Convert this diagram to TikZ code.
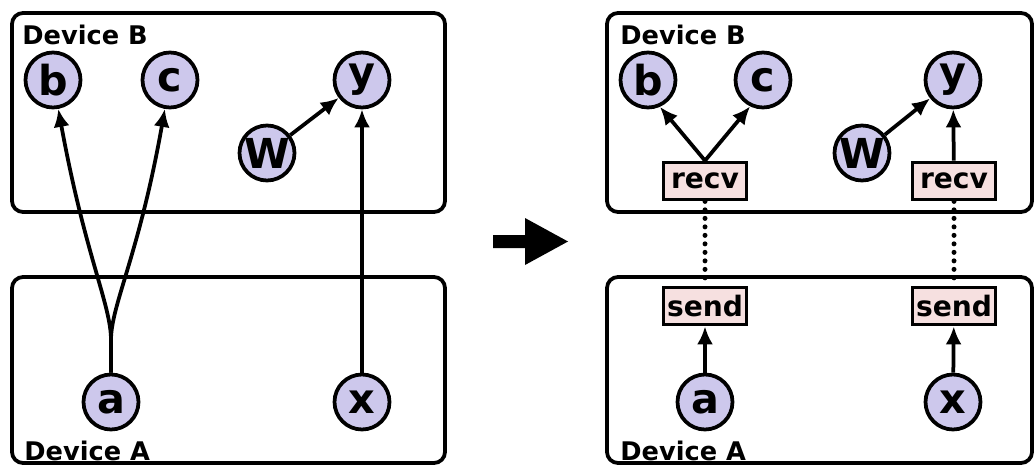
\documentclass[tikz,border=0pt]{standalone}
\usepackage{fontspec}
\setmainfont{DejaVu Sans}
\usetikzlibrary{arrows.meta}
\definecolor{nodefill}{RGB}{205,200,236}
\definecolor{opfill}{RGB}{246,224,224}
\begin{document}
\begin{tikzpicture}[x=0.02cm,y=-0.02cm,
  devbox/.style={draw=black, line width=0.075cm, rounded corners=0.22cm},
  devlabel/.style={anchor=base west, inner sep=0pt, font=\fontsize{14.6}{15}\selectfont\bfseries},
  opnode/.style={circle, draw=black, fill=nodefill, line width=0.075cm, minimum size=1.1cm, inner sep=0pt, font=\fontsize{23.5}{24}\selectfont\bfseries},
  commbox/.style={rectangle, draw=black, fill=opfill, line width=0.075cm, minimum width=1.66cm, minimum height=0.74cm, inner sep=0pt, font=\fontsize{16}{16}\selectfont\bfseries},
  edge/.style={line width=0.075cm, -{Latex[length=0.36cm,width=0.32cm]}},
  dotline/.style={line width=0.1cm, line cap=round, dash pattern=on 0pt off 0.17cm}]
\useasboundingbox (0,0) rectangle (1034,466);

% ---------- left panel ----------
\draw[devbox] (12,13) rectangle (445,212);
\draw[devbox] (12,277) rectangle (445,463);
\node[devlabel] (lBlab) at (22,45) {Device B};
\node[devlabel] (lAlab) at (24,460) {Device A};

\node[opnode] (lb) at (53,80) {b};
\node[opnode] (lc) at (170,80) {c};
\node[opnode] (ly) at (362,80) {y};
\node[opnode] (lw) at (267,153) {W};
\node[opnode] (la) at (111,402) {a};
\node[opnode] (lx) at (362,402) {x};
\coordinate (split) at (111,340);

\draw[edge, line join=round] (la) -- (split) .. controls (111,305) and (85,255) .. (lb);
\draw[edge, line join=round] (la) -- (split) .. controls (111,305) and (139,255) .. (lc);
\draw[edge] (lx) -- (ly);
\draw[edge] (lw) -- (ly);

% ---------- middle arrow ----------
\fill[black] (493,235) -- (525,235) -- (525,218) -- (568,241.5) -- (525,265) -- (525,248) -- (493,248) -- cycle;

% ---------- right panel ----------
\draw[devbox] (607,13) rectangle (1032,212);
\draw[devbox] (607,277) rectangle (1032,463);
\node[devlabel] (rBlab) at (620,45) {Device B};
\node[devlabel] (rAlab) at (620,460) {Device A};

\node[opnode] (rb) at (648,80) {b};
\node[opnode] (rc) at (763,80) {c};
\node[opnode] (ry) at (953,80) {y};
\node[opnode] (rw) at (862,153) {W};
\node[opnode] (ra) at (705,402) {a};
\node[opnode] (rx) at (953,402) {x};

\node[commbox] (recvL) at (705,181) {recv};
\node[commbox] (recvR) at (954,181) {recv};
\node[commbox] (sendL) at (705,306) {send};
\node[commbox] (sendR) at (954,306) {send};

\draw[edge] (recvL.north) -- (rb.-66);
\draw[edge] (recvL.north) -- (rc.-116);
\draw[edge] (recvR) -- (ry);
\draw[edge] (rw) -- (ry);
\draw[edge] (ra) -- (sendL);
\draw[edge] (rx) -- (sendR);
\draw[dotline] (recvL.south) -- (sendL.north);
\draw[dotline] (recvR.south) -- (sendR.north);
\end{tikzpicture}
\end{document}
